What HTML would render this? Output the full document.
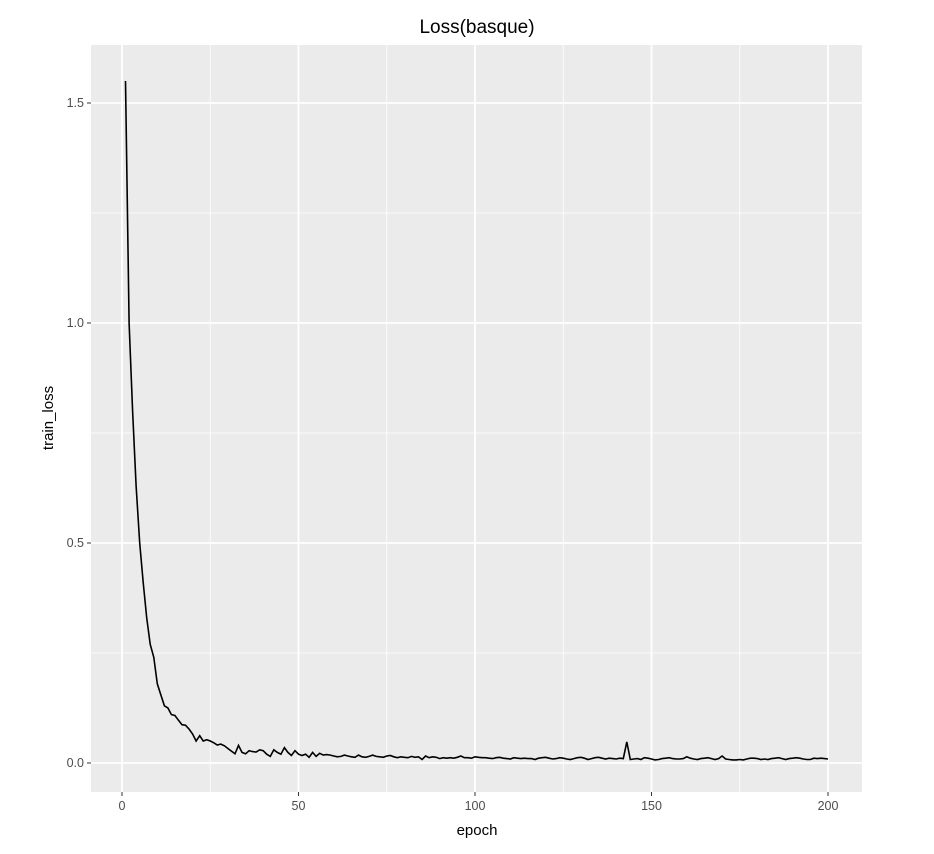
<!DOCTYPE html>
<html><head><meta charset="utf-8"><style>
body{margin:0;background:#fff;}
svg{display:block;font-family:"Liberation Sans",sans-serif;}
</style></head><body>
<svg id="chart" width="934" height="854">
<text x="477" y="33" text-anchor="middle" font-size="19" fill="#000">Loss(basque)</text>
<rect x="91" y="45" width="771" height="747" fill="#ebebeb"/>
<g id="grid"></g>
<g id="axes"></g>
<path id="line" fill="none" stroke="#000" stroke-width="1.6"/>
<text x="477" y="835" text-anchor="middle" font-size="15" fill="#000">epoch</text>
<text transform="translate(53,418) rotate(-90)" text-anchor="middle" font-size="15" fill="#000">train_loss</text>
</svg>
<script>
const xTicks=[0,50,100,150,200];
const yTicks=[0,0.5,1.0,1.5];
const yTickLabels=["0.0","0.5","1.0","1.5"];
const lossHead=[1.55,1.0,0.8,0.63,0.5,0.41,0.33,0.27,0.24,0.18,0.155,0.13,0.125,0.11,0.108,0.097,0.087,0.086,0.077,0.066,0.05,0.062,0.05,0.053,0.05,0.046,0.041,0.043,0.039,0.033,0.027,0.021,0.04,0.024,0.021,0.028,0.026,0.025,0.03,0.028,0.02,0.015,0.03,0.024,0.02,0.035,0.024,0.017,0.028,0.02,0.017,0.02,0.013,0.024,0.015,0.022,0.018,0.019,0.018,0.016];
const lossTail=[0.014,0.015,0.018,0.016,0.014,0.013,0.018,0.014,0.013,0.015,0.018,0.015,0.014,0.013,0.016,0.017,0.014,0.012,0.014,0.013,0.012,0.015,0.013,0.014,0.008,0.016,0.012,0.014,0.013,0.01,0.012,0.011,0.012,0.011,0.013,0.016,0.012,0.012,0.011,0.014,0.013,0.012,0.012,0.011,0.01,0.012,0.013,0.011,0.01,0.009,0.012,0.011,0.01,0.011,0.01,0.01,0.008,0.011,0.012,0.013,0.011,0.009,0.01,0.012,0.011,0.009,0.008,0.01,0.012,0.013,0.011,0.008,0.01,0.012,0.013,0.011,0.009,0.011,0.01,0.009,0.011,0.01,0.048,0.008,0.009,0.01,0.008,0.012,0.011,0.009,0.007,0.008,0.01,0.011,0.012,0.01,0.009,0.009,0.01,0.014,0.011,0.009,0.008,0.01,0.011,0.012,0.01,0.008,0.01,0.016,0.009,0.008,0.007,0.007,0.008,0.007,0.009,0.011,0.011,0.01,0.008,0.009,0.008,0.01,0.011,0.012,0.01,0.008,0.01,0.011,0.012,0.011,0.009,0.008,0.008,0.011,0.01,0.011,0.01,0.009];
const loss=lossHead.concat(lossTail).slice(0,200);
const epochs=loss.map((_,i)=>i+1);
const X=v=>122+v*3.53, Y=v=>763-v*440;
const ns="http://www.w3.org/2000/svg";
const grid=document.getElementById('grid'), axes=document.getElementById('axes');
function line(x1,y1,x2,y2,w,name){const l=document.createElementNS(ns,'line');
l.setAttribute('x1',x1);l.setAttribute('y1',y1);l.setAttribute('x2',x2);l.setAttribute('y2',y2);
l.setAttribute('stroke','#fff');l.setAttribute('stroke-width',w);


grid.appendChild(l);}
for(let i=0;i<xTicks.length;i++){line(X(xTicks[i]),45,X(xTicks[i]),792,1.8,'x-gridline');
 if(i<xTicks.length-1){const m=(xTicks[i]+xTicks[i+1])/2;line(X(m),45,X(m),792,0.8,'x-minor-gridline');}}
for(let i=0;i<yTicks.length;i++){line(91,Y(yTicks[i]),862,Y(yTicks[i]),1.8,'y-gridline');
 const m=yTicks[i]+0.25;if(Y(m)>45)line(91,Y(m),862,Y(m),0.8,'y-minor-gridline');}
function tx(x,y,s,anchor,name){const t=document.createElementNS(ns,'text');t.setAttribute('x',x);t.setAttribute('y',y);
t.setAttribute('text-anchor',anchor);t.setAttribute('font-size','12.5');t.setAttribute('fill','#4d4d4d');t.textContent=s;


axes.appendChild(t);}
function tk(x1,y1,x2,y2){const l=document.createElementNS(ns,'line');l.setAttribute('x1',x1);l.setAttribute('y1',y1);l.setAttribute('x2',x2);l.setAttribute('y2',y2);l.setAttribute('stroke','#333');l.setAttribute('stroke-width','1');


axes.appendChild(l);}
xTicks.forEach(v=>{tk(X(v),792,X(v),796);tx(X(v),810,String(v),'middle','x-tick-label');});
yTicks.forEach((v,i)=>{tk(87,Y(v),91,Y(v));tx(84,Y(v)+4,yTickLabels[i],'end','y-tick-label');});
document.getElementById('line').setAttribute('d',epochs.map((e,i)=>(i?'L':'M')+X(e).toFixed(1)+','+Y(loss[i]).toFixed(1)).join(''));
</script>
</body></html>
